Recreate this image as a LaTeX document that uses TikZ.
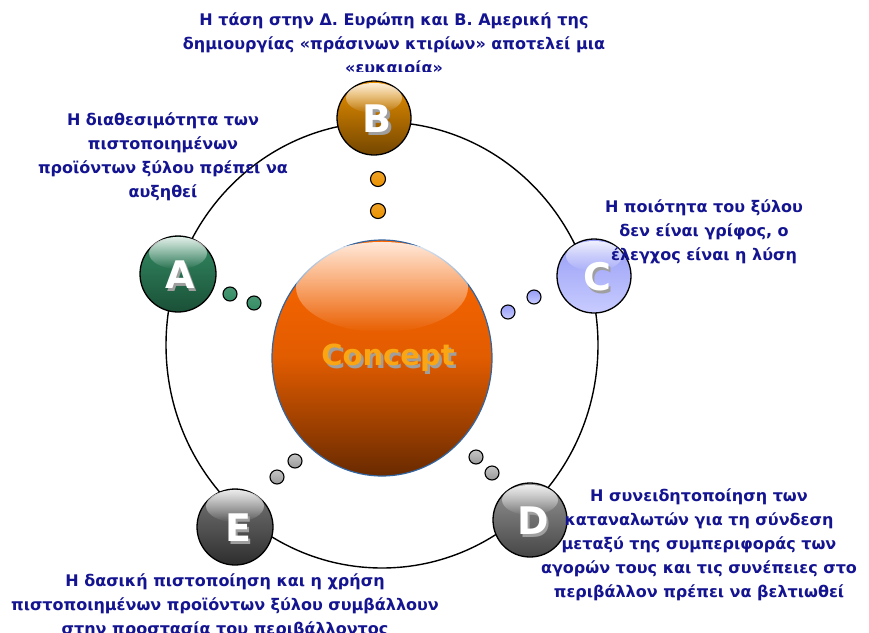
\documentclass[tikz,border=0pt]{standalone}
\usepackage{fontspec}
\setmainfont{DejaVu Sans}
\usetikzlibrary{fadings}

\definecolor{navy}{RGB}{20,20,145}
\definecolor{cptop}{RGB}{255,104,0}
\definecolor{cpbot}{RGB}{105,42,0}
\definecolor{cptext}{RGB}{250,165,20}
\definecolor{agreen}{RGB}{52,140,100}
\definecolor{agreend}{RGB}{26,80,55}
\definecolor{borange}{RGB}{235,145,0}
\definecolor{borangd}{RGB}{115,70,0}
\definecolor{clav}{RGB}{150,156,245}
\definecolor{clavl}{RGB}{200,204,255}
\definecolor{dgrey}{RGB}{150,150,150}
\definecolor{dgreyd}{RGB}{70,70,70}
\definecolor{egrey}{RGB}{120,120,120}
\definecolor{egreyd}{RGB}{45,45,45}

% text with a grey drop shadow
\newcommand{\dropshadow}[2]{\makebox[0pt][l]{\hspace{2.5pt}\raisebox{-3pt}{\textcolor{gray!75}{#2}}}\textcolor{#1}{#2}}

\begin{document}
\begin{tikzpicture}[x=1pt,y=-1pt]
  % overall canvas
  \useasboundingbox (0,0) rectangle (869,632);

  % styles
  \tikzset{
    ring/.style={draw=black,line width=1.4pt},
    ball/.style={draw=black,line width=1.3pt},
    dot/.style={draw=black,line width=1.1pt},
    shine/.style={fill=white,path fading=south,fill opacity=0.85},
    letter/.style={font=\bfseries\fontsize{38}{38}\selectfont,inner sep=0pt},
    note/.style={font=\bfseries\fontsize{16}{24}\selectfont,text=navy,align=center,inner sep=0pt},
  }

  % white background
  \fill[white] (0,0) rectangle (869,632);

  % outer ring
  \draw[ring] (382,345) ellipse [x radius=216, y radius=223];

  % --- centre sphere ---
  \shade[top color=cptop,bottom color=cpbot,middle color=cptop!80!cpbot]
    (382,358) ellipse [x radius=110, y radius=118];
  \draw[draw={rgb,255:red,50;green,100;blue,160},line width=1.2pt]
    (382,358) ellipse [x radius=110, y radius=118];
  \fill[shine] (382,287) ellipse [x radius=86, y radius=45];
  \node[font=\bfseries\fontsize{29}{29}\selectfont,inner sep=0pt] (concept) at (388,359) {\dropshadow{cptext}{Concept}};

  % --- connecting dots ---
  \shade[dot,top color=agreen!90,bottom color=agreen] (230,294) circle [radius=7];
  \shade[dot,top color=agreen!90,bottom color=agreen] (254,303) circle [radius=7];
  \shade[dot,top color=borange!85!white,bottom color=borange] (378,179) circle [radius=7.5];
  \shade[dot,top color=borange!85!white,bottom color=borange] (378,211) circle [radius=7.5];
  \shade[dot,top color=clav,bottom color=clavl] (534,297) circle [radius=7];
  \shade[dot,top color=clav,bottom color=clavl] (508,312) circle [radius=7];
  \shade[dot,top color=gray!45,bottom color=gray!80] (476,457) circle [radius=7];
  \shade[dot,top color=gray!45,bottom color=gray!80] (492,473) circle [radius=7];
  \shade[dot,top color=gray!45,bottom color=gray!80] (295,461) circle [radius=7];
  \shade[dot,top color=gray!45,bottom color=gray!80] (277,477) circle [radius=7];

  % --- satellites ---
  \shade[ball,top color=agreen,bottom color=agreend] (178,274) circle [radius=38];
  \fill[shine] (178,253) ellipse [x radius=29, y radius=16];
  \shade[ball,top color=borange,bottom color=borangd] (374,118) circle [radius=37];
  \fill[shine] (374,98) ellipse [x radius=28, y radius=15];
  \shade[ball,top color=clav,bottom color=clavl] (594,276) circle [radius=37];
  \fill[shine] (594,256) ellipse [x radius=28, y radius=15];
  \shade[ball,top color=dgrey,bottom color=dgreyd] (530,520) circle [radius=37];
  \fill[shine] (530,500) ellipse [x radius=28, y radius=15];
  \shade[ball,top color=egrey,bottom color=egreyd] (235,527) circle [radius=38];
  \fill[shine] (235,506) ellipse [x radius=29, y radius=16];

  \node[letter] (la) at (180,276) {\dropshadow{white}{A}};
  \node[letter] (lb) at (377,120) {\dropshadow{white}{B}};
  \node[letter] (lc) at (597,278) {\dropshadow{white}{C}};
  \node[letter] (ld) at (533,522) {\dropshadow{white}{D}};
  \node[letter] (le) at (238,529) {\dropshadow{white}{E}};

  % --- texts ---
  \begin{scope}
    \clip (0,0) rectangle (869,71);
    \node[note] (tb) at (394,45) {Η τάση στην Δ. Ευρώπη και Β. Αμερική της\\
      δημιουργίας «πράσινων κτιρίων» αποτελεί μια\\ «ευκαιρία»};
  \end{scope}
  \node[note] (ta) at (163,157) {Η διαθεσιμότητα των\\ πιστοποιημένων\\
    προϊόντων ξύλου πρέπει να\\ αυξηθεί};
  \node[note] (tc) at (704,232) {Η ποιότητα του ξύλου\\ δεν είναι γρίφος, ο\\
    έλεγχος είναι η λύση};
  \node[note] (td) at (699,545) {Η συνειδητοποίηση των\\ καταναλωτών για τη σύνδεση\\
    μεταξύ της συμπεριφοράς των\\ αγορών τους και τις συνέπειες στο\\
    περιβάλλον πρέπει να βελτιωθεί};
  \begin{scope}
    \clip (0,0) rectangle (869,632);
    \node[note] (te) at (225,606) {Η δασική πιστοποίηση και η χρήση\\
      πιστοποιημένων προϊόντων ξύλου συμβάλλουν\\ στην προστασία του περιβάλλοντος};
  \end{scope}
\end{tikzpicture}
\end{document}
